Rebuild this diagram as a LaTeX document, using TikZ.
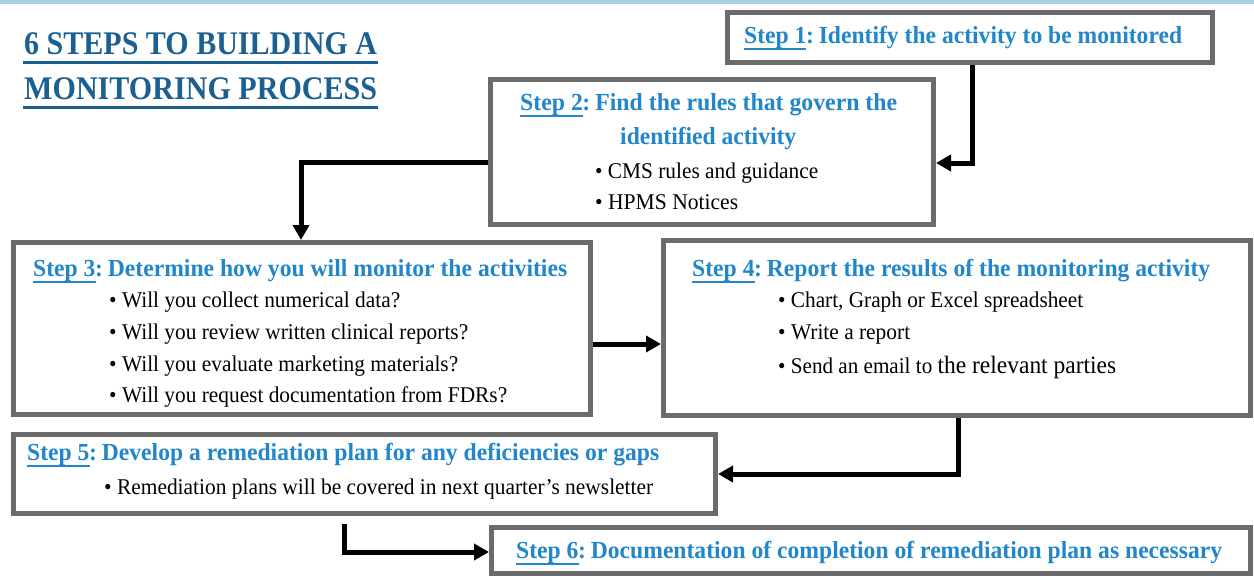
\documentclass[tikz,border=0pt]{standalone}
\usepackage{fontspec}
\setmainfont{Liberation Serif}
\usetikzlibrary{arrows.meta}
\definecolor{ttl}{RGB}{28,96,146}
\definecolor{hd}{RGB}{33,134,202}
\definecolor{bd}{RGB}{107,107,107}
\definecolor{topbar}{RGB}{168,210,226}
\newcommand\fitto[2]{\resizebox{#1pt}{\height}{#2}}
\newcommand\stp[1]{\setbox0\hbox{#1}\rlap{\rule[-7pt]{\wd0}{2pt}}\box0\kern-0.5pt:\kern-1pt\ }
\tikzset{
  box/.style={draw=bd, line width=5pt, inner sep=0pt, fill=white},
  arr/.style={line width=5pt, -{Triangle[length=15pt,width=16pt]}},
  ttltext/.style={anchor=base west, inner sep=0pt, text=ttl, font=\fontsize{33}{37}\selectfont\bfseries},
  hdtext/.style={anchor=base west, inner sep=0pt, text=hd, font=\fontsize{24.5}{28}\selectfont\bfseries},
  bltext/.style={anchor=base west, inner sep=0pt, text=black, font=\fontsize{22.5}{26}\selectfont},
}
\begin{document}
\begin{tikzpicture}[x=1pt,y=-1pt]
\useasboundingbox (0,0) rectangle (1254,576);
\fill[white] (0,0) rectangle (1254,576);
\fill[topbar] (0,0) rectangle (1254,4);
% title
\node[ttltext] (title1) at (24,54) {\fitto{353}{6 STEPS TO BUILDING A}};
\node[ttltext] (title2) at (24,99) {\fitto{353}{MONITORING PROCESS}};
\draw[ttl, line width=3pt] (23,62) -- (378,62);
\draw[ttl, line width=3pt] (23,107) -- (378,107);
% boxes
\node[box, minimum width=485pt, minimum height=50pt] (s1) at (970,37.5) {};
\node[box, minimum width=443pt, minimum height=145pt] (s2) at (712,152) {};
\node[box, minimum width=577pt, minimum height=172pt] (s3) at (302,328.5) {};
\node[box, minimum width=587pt, minimum height=175pt] (s4) at (957,328) {};
\node[box, minimum width=702pt, minimum height=79pt] (s5) at (364.5,474) {};
\node[box, minimum width=759pt, minimum height=46pt] (s6) at (871,550.5) {};
% step 1
\node[hdtext] (h1) at (744,43) {\fitto{438}{\stp{Step 1}Identify the activity to be monitored}};
% step 2
\node[hdtext] (h2a) at (520,110) {\fitto{377}{\stp{Step 2}Find the rules that govern the}};
\node[hdtext] (h2b) at (620,144) {\fitto{176}{identified activity}};
\node[bltext] (b2a) at (595,178) {\fitto{223}{• CMS rules and guidance}};
\node[bltext] (b2b) at (595,209) {\fitto{143}{• HPMS Notices}};
% step 3
\node[hdtext] (h3) at (33,276) {\fitto{534}{\stp{Step 3}Determine how you will monitor the activities}};
\node[bltext] (b3a) at (109,307) {\fitto{291}{• Will you collect numerical data?}};
\node[bltext] (b3b) at (109,339) {\fitto{359}{• Will you review written clinical reports?}};
\node[bltext] (b3c) at (109,371) {\fitto{349}{• Will you evaluate marketing materials?}};
\node[bltext] (b3d) at (109,402) {\fitto{398}{• Will you request documentation from FDRs?}};
% step 4
\node[hdtext] (h4) at (692,276) {\fitto{518}{\stp{Step 4}Report the results of the monitoring activity}};
\node[bltext] (b4a) at (778,307) {\fitto{305}{• Chart, Graph or Excel spreadsheet}};
\node[bltext] (b4b) at (778,339) {\fitto{132}{• Write a report}};
\node[bltext] (b4c) at (778,373) {\fitto{338}{• Send an email to {\fontsize{25}{29}\selectfont the relevant parties}}};
% step 5
\node[hdtext] (h5) at (27,460) {\fitto{632}{\stp{Step 5}Develop a remediation plan for any deficiencies or gaps}};
\node[bltext] (b5a) at (104,494) {\fitto{549}{• Remediation plans will be covered in next quarter’s newsletter}};
% step 6
\node[hdtext] (h6) at (516,558) {\fitto{706}{\stp{Step 6}Documentation of completion of remediation plan as necessary}};
% connectors
\draw[arr] (s1.south -| 972,0) |- (s2.east |- 0,163);
\draw[arr] (s2.west |- 0,162) -| (s3.north -| 301,0);
\draw[arr] (s3.east |- 0,344) -- (s4.west |- 0,344);
\draw[arr] (s4.south -| 958,0) |- (s5.east |- 0,474);
\coordinate (c56) at (344,524);
\draw[arr] (c56) |- (s6.west |- 0,552);
\end{tikzpicture}
\end{document}
